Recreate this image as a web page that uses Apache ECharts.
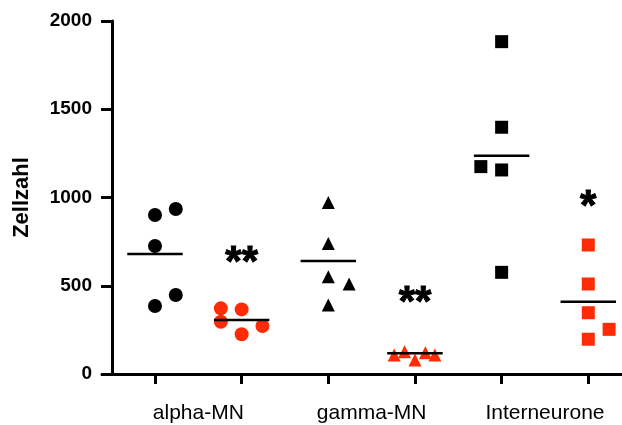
<!DOCTYPE html>
<html>
<head>
<meta charset="utf-8">
<script src="https://cdn.jsdelivr.net/npm/echarts@6/dist/echarts.min.js"></script>
<style>
  html, body { margin: 0; padding: 0; background: #fff; }
  #chart { width: 622px; height: 425px; }
</style>
</head>
<body>
<div id="chart"></div>
<script>
// group names, shown between each pair of columns
const groups = ['alpha-MN', 'gamma-MN', 'Interneurone']
const groupPos = [0.5, 2.5, 4.5]
const columnPos = [0, 1, 2, 3, 4, 5]

// cell counts per column (x = column + jitter)
const alphaCtrlX = [0, 0.24, 0, 0, 0.24]
const alphaCtrl = [901, 935, 725, 385, 448]
const alphaRedX = [-0.24, 0, -0.24, 0.24, 0]
const alphaRed = [372, 366, 296, 272, 225]
const gammaCtrlX = [0, 0, 0, 0.24, 0]
const gammaCtrl = [971, 740, 551, 510, 391]
const gammaRedX = [-0.24, -0.12, 0, 0.12, 0.23]
const gammaRed = [108, 126, 79, 121, 108]
const interCtrlX = [0, 0, -0.24, 0, 0]
const interCtrl = [1883, 1398, 1175, 1156, 576]
const interRedX = [0, 0, 0, 0.24, 0]
const interRed = [731, 510, 347, 253, 197]

// horizontal mean bars
const means = [680, 306, 640, 117, 1237, 410]

// significance marks
const starPos = [1, 3, 5]
const starVal = [668, 442, 986]
const starText = ['**', '**', '*']

const yTicks = [0, 500, 1000, 1500, 2000]

const RED = '#ff2a06'
const FONT = 'Liberation Sans, Arial, sans-serif'

function pts(col, xs, ys) {
  return ys.map((v, i) => [col + xs[i], v])
}

function dots(name, col, xs, ys, symbol, size, color) {
  return {
    name: name,
    type: 'scatter',
    symbol: symbol,
    symbolSize: size,
    itemStyle: { color: color, opacity: 1 },
    data: pts(col, xs, ys),
    z: 3
  }
}

const chart = echarts.init(document.getElementById('chart'))

const option = {
  animation: false,
  backgroundColor: '#fff',
  grid: {
    left: 102,
    right: 0,
    top: 21,
    bottom: 51,
    outerBoundsMode: 'none'
  },
  xAxis: {
    type: 'value',
    min: -0.6115,
    max: 5.389,
    splitLine: { show: false },
    axisLine: { show: true, onZero: false, lineStyle: { color: '#000', width: 3 } },
    axisTick: {
      show: true,
      customValues: columnPos,
      length: 10,
      lineStyle: { color: '#000', width: 3 }
    },
    axisLabel: {
      customValues: groupPos,
      formatter: function (v) {
        return groups[groupPos.indexOf(v)] || ''
      },
      color: '#000',
      fontFamily: FONT,
      fontSize: 21,
      margin: 29
    }
  },
  yAxis: {
    type: 'value',
    min: yTicks[0],
    max: yTicks[yTicks.length - 1],
    interval: 500,
    offset: -10,
    name: 'Zellzahl',
    nameLocation: 'middle',
    nameRotate: 90,
    nameGap: 79,
    nameTextStyle: {
      color: '#000',
      fontFamily: FONT,
      fontWeight: 'bold',
      fontSize: 22
    },
    splitLine: { show: false },
    axisLine: { show: true, onZero: false, lineStyle: { color: '#000', width: 3 } },
    axisTick: { show: true, length: 11, lineStyle: { color: '#000', width: 3 } },
    axisLabel: {
      color: '#000',
      fontFamily: FONT,
      fontWeight: 'bold',
      fontSize: 19,
      margin: 20,
      formatter: function (v) { return String(v) }
    }
  },
  series: [
    dots('alpha ctrl', 0, alphaCtrlX, alphaCtrl, 'circle', 14, '#000'),
    dots('alpha red', 1, alphaRedX, alphaRed, 'circle', 14, RED),
    dots('gamma ctrl', 2, gammaCtrlX, gammaCtrl, 'triangle', 13, '#000'),
    dots('gamma red', 3, gammaRedX, gammaRed, 'triangle', 13, RED),
    dots('inter ctrl', 4, interCtrlX, interCtrl, 'rect', 13, '#000'),
    dots('inter red', 5, interRedX, interRed, 'rect', 13, RED),
    {
      name: 'mean',
      type: 'custom',
      data: means.map((m, i) => [columnPos[i], m]),
      renderItem: function (params, api) {
        const x = api.value(0)
        const y = api.value(1)
        const a = api.coord([x - 0.32, y])
        const b = api.coord([x + 0.32, y])
        return {
          type: 'line',
          shape: { x1: a[0], y1: a[1], x2: b[0], y2: b[1] },
          style: { stroke: '#000', lineWidth: 2.5 }
        }
      },
      z: 4
    },
    {
      name: 'stars',
      type: 'scatter',
      symbolSize: 0,
      data: starPos.map((p, i) => [p, starVal[i]]),
      label: {
        show: true,
        position: 'inside',
        formatter: function (p) { return starText[p.dataIndex] },
        color: '#000',
        opacity: 1,
        textBorderColor: '#000',
        textBorderWidth: 1,
        fontFamily: FONT,
        fontWeight: 'bold',
        fontSize: 42,
        offset: [0, 7]
      },
      z: 5
    }
  ]
}

chart.setOption(option)
</script>
</body>
</html>
